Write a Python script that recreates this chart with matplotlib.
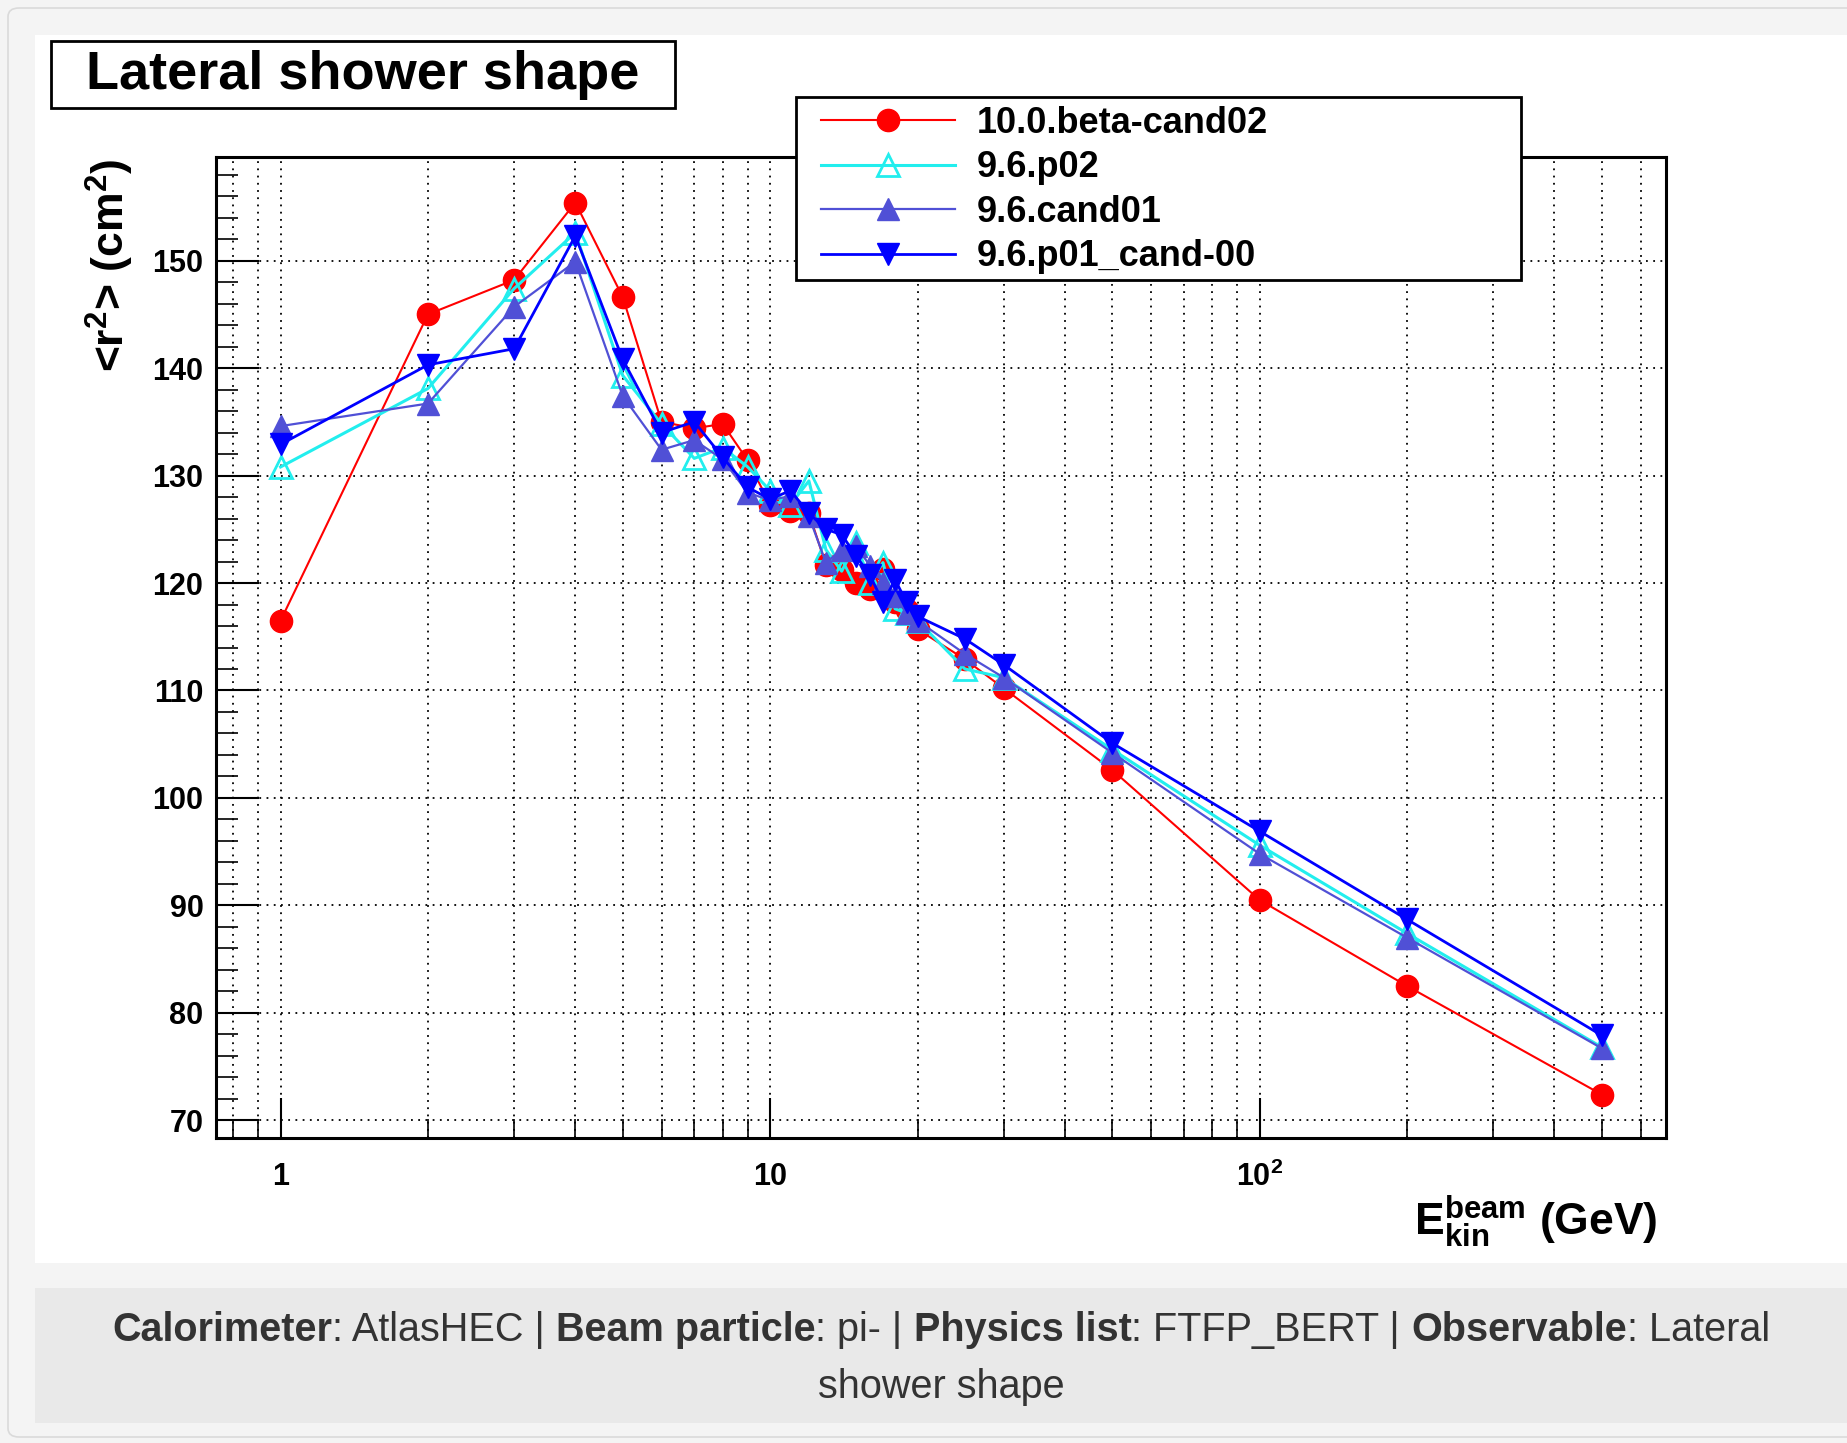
import matplotlib
matplotlib.use("Agg")
import matplotlib.pyplot as plt
from matplotlib.patches import Rectangle, FancyBboxPatch
from matplotlib.ticker import FixedLocator, FixedFormatter, MultipleLocator, LogLocator, NullFormatter

plt.rcParams['font.family'] = ['Liberation Sans', 'DejaVu Sans']
plt.rcParams['mathtext.fontset'] = 'custom'
plt.rcParams['mathtext.rm'] = 'Liberation Sans:bold'
plt.rcParams['mathtext.it'] = 'Liberation Sans:bold'
plt.rcParams['mathtext.bf'] = 'Liberation Sans:bold'
plt.rcParams['mathtext.default'] = 'rm'

# ---------------- data ----------------
energies = [1, 2, 3, 4, 5, 6, 7, 8, 9, 10, 11, 12, 13, 14, 15, 16, 17, 18, 19, 20,
            25, 30, 50, 100, 200, 500]

beta_cand02 = [116.5, 145.0, 148.2, 155.4, 146.6, 135.0, 134.4, 134.8, 131.4, 127.3,
               126.7, 126.5, 121.7, 121.2, 120.0, 119.4, 121.3, 118.2, 117.5, 115.7,
               112.9, 110.2, 102.6, 90.5, 82.5, 72.4]
p02 = [130.8, 138.1, 147.4, 152.6, 139.3, 134.8, 131.6, 132.6, 130.8, 128.6,
       127.3, 129.5, 123.1, 121.1, 123.7, 120.0, 121.9, 117.6, 117.2, 116.5,
       112.0, 111.2, 104.5, 95.6, 87.4, 76.8]
cand01 = [134.6, 136.7, 145.7, 149.9, 137.4, 132.4, 133.3, 131.5, 128.4, 127.7,
          128.1, 126.2, 121.9, 123.1, 123.4, 121.6, 120.0, 118.8, 117.2, 116.5,
          113.4, 111.2, 104.2, 94.8, 87.0, 76.7]
p01_cand00 = [132.9, 140.3, 141.8, 152.3, 140.8, 134.0, 135.0, 131.7, 128.9, 127.8,
              128.6, 126.5, 125.0, 124.5, 122.5, 120.7, 118.2, 120.3, 118.2, 116.9,
              114.8, 112.4, 105.1, 96.9, 88.7, 77.9]

series_labels = ['10.0.beta-cand02', '9.6.p02', '9.6.cand01', '9.6.p01_cand-00']
xtick_vals = [1, 10, 100]
xtick_labels = ['1', '10', '10$^{2}$']
caption_parts = [("Calorimeter", 'bold'), (": AtlasHEC | ", 'normal'),
                 ("Beam particle", 'bold'), (": pi- | ", 'normal'),
                 ("Physics list", 'bold'), (": FTFP_BERT | ", 'normal'),
                 ("Observable", 'bold'), (": Lateral", 'normal')]
caption_line2 = "shower shape"

W, H = 1847, 1443


def fx(px):
    return px / W


def fy(py):
    return 1 - py / H


fig = plt.figure(figsize=(W / 100, H / 100), dpi=100, facecolor='#f4f4f4')

# page background pieces
fig.add_artist(FancyBboxPatch((fx(8), fy(1437)), fx(1900) - fx(8), fy(8) - fy(1437),
                              boxstyle='round,pad=0,rounding_size=0.006',
                              transform=fig.transFigure, fc='#f4f4f4', ec='#dadada', lw=1.2, zorder=-5))
fig.add_artist(Rectangle((fx(35), fy(1263)), fx(1847) - fx(35), fy(35) - fy(1263),
                         transform=fig.transFigure, fc='white', ec='none', zorder=-4))
fig.add_artist(Rectangle((fx(35), fy(1423)), fx(1847) - fx(35), fy(1288) - fy(1423),
                         transform=fig.transFigure, fc='#e9e9e9', ec='none', zorder=-4))

# ---------------- axes ----------------
ax = fig.add_axes([fx(216), fy(1138), fx(1666) - fx(216), fy(157) - fy(1138)])
ax.set_facecolor('white')
ax.set_xscale('log')
ax.set_xlim(0.738, 676)
ax.set_ylim(68.36, 159.64)

styles = [
    dict(color='#ff0000', marker='o', ms=16, lw=1.5, mfc='#ff0000', mec='#ff0000'),
    dict(color='#22eeee', marker='^', ms=16.5, lw=2.2, mfc='none', mec='#22eeee', mew=2),
    dict(color='#5050d6', marker='^', ms=16.5, lw=1.6, mfc='#5050d6', mec='#5050d6'),
    dict(color='#0000ff', marker='v', ms=16.5, lw=2.0, mfc='#0000ff', mec='#0000ff'),
]
handles = []
for vals, st, lab in zip([beta_cand02, p02, cand01, p01_cand00], styles, series_labels):
    h, = ax.plot(energies, vals, label=lab, zorder=3, **st)
    handles.append(h)

# ticks, ROOT style
ax.yaxis.set_major_locator(MultipleLocator(10))
ax.yaxis.set_minor_locator(MultipleLocator(2))
ax.xaxis.set_major_locator(FixedLocator(xtick_vals))
ax.xaxis.set_major_formatter(FixedFormatter(xtick_labels))
ax.xaxis.set_minor_locator(LogLocator(base=10, subs=[2, 3, 4, 5, 6, 7, 8, 9], numticks=20))
ax.xaxis.set_minor_formatter(NullFormatter())
ax.tick_params(axis='y', which='major', direction='in', length=31, width=1.5,
               labelsize=22, pad=9, right=False)
ax.tick_params(axis='y', which='minor', direction='in', length=16, width=1.2, right=False)
ax.tick_params(axis='x', which='major', direction='in', length=29, width=1.5,
               labelsize=22, pad=17, top=False)
ax.tick_params(axis='x', which='minor', direction='in', length=14, width=1.2, top=False)
for lab in ax.get_xticklabels() + ax.get_yticklabels():
    lab.set_fontweight('bold')

ax.grid(which='major', axis='both', color='black', ls=(0, (1, 3)), lw=1.3)
ax.grid(which='minor', axis='x', color='black', ls=(0, (1, 3)), lw=1.3)
ax.set_axisbelow(True)
for sp in ax.spines.values():
    sp.set_linewidth(2.2)

# axis titles
fig.text(fx(110), fy(159), '<r$^{2}$> (cm$^{2}$)', rotation=90, ha='center', va='top',
         fontsize=32, fontweight='bold')
fig.text(fx(1658), fy(1222), 'E$_{kin}^{beam}$ (GeV)', ha='right', va='center',
         fontsize=32, fontweight='bold')

# title box
fig.add_artist(Rectangle((fx(51), fy(108)), fx(675) - fx(51), fy(41) - fy(108),
                         transform=fig.transFigure, fc='white', ec='black', lw=2, zorder=3))
fig.text(fx(363), fy(75), 'Lateral shower shape', ha='center', va='center',
         fontsize=39, fontweight='bold', zorder=4)

# legend box
fig.add_artist(Rectangle((fx(796), fy(280)), fx(1521) - fx(796), fy(97) - fy(280),
                         transform=fig.transFigure, fc='white', ec='black', lw=2, zorder=3))
leg = fig.legend(handles=handles, labels=series_labels, loc='upper left',
                 bbox_to_anchor=(fx(821), fy(106)), frameon=False, borderpad=0,
                 borderaxespad=0, handlelength=3.7, handletextpad=0.62,
                 labelspacing=0.26, prop=dict(size=26, weight='bold'))
leg.set_zorder(4)

# caption with mixed weights
r = fig.canvas.get_renderer()


def text_w(s, weight, size):
    t1 = fig.text(0, 0, '|' + s + '|', fontsize=size, fontweight=weight)
    t2 = fig.text(0, 0, '||', fontsize=size, fontweight=weight)
    w = t1.get_window_extent(r).width - t2.get_window_extent(r).width
    t1.remove()
    t2.remove()
    return w


cap_size = 28.5
widths = [text_w(s, wt, cap_size) for s, wt in caption_parts]
x0 = 941 - sum(widths) / 2
for (s, wt), w in zip(caption_parts, widths):
    fig.text(fx(x0), fy(1341), s, fontsize=cap_size, fontweight=wt, color='#333333',
             ha='left', va='baseline')
    x0 += w
fig.text(fx(941), fy(1398), caption_line2, fontsize=cap_size, color='#333333',
         ha='center', va='baseline')

fig.savefig('out.png', dpi=100, facecolor=fig.get_facecolor())
